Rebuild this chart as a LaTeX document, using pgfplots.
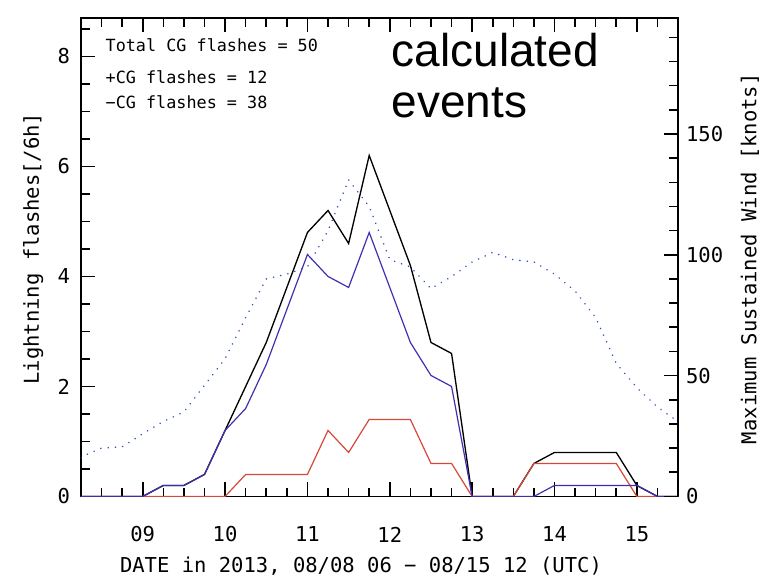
\documentclass[border=0pt]{standalone}
\usepackage{fontspec}
\setmainfont{DejaVu Sans Mono}
\newfontfamily\arialfont{Liberation Sans}
\usepackage{pgfplots}
\pgfplotsset{compat=1.18}
\usepackage{pgfplotstable}

\definecolor{negblue}{RGB}{64,48,176}
\definecolor{posred}{RGB}{214,72,56}
\definecolor{windblue}{RGB}{48,80,192}

% 6-hourly lightning counts: total, +CG, -CG
\pgfplotstableread{
t     total  pos  neg
8.25  0      0    0
8.5   0      0    0
8.75  0      0    0
9.0   0      0    0
9.25  0.2    0    0.2
9.5   0.2    0    0.2
9.75  0.4    0    0.4
10.0  1.2    0    1.2
10.25 2.0    0.4  1.6
10.5  2.8    0.4  2.4
10.75 3.8    0.4  3.4
11.0  4.8    0.4  4.4
11.25 5.2    1.2  4.0
11.5  4.6    0.8  3.8
11.75 6.2    1.4  4.8
12.0  5.2    1.4  3.8
12.25 4.2    1.4  2.8
12.5  2.8    0.6  2.2
12.75 2.6    0.6  2.0
13.0  0      0    0
13.25 0      0    0
13.5  0      0    0
13.75 0.6    0.6  0
14.0  0.8    0.6  0.2
14.25 0.8    0.6  0.2
14.5  0.8    0.6  0.2
14.75 0.8    0.6  0.2
15.0  0.2    0    0.2
15.25 0      0    0
15.5  0      0    0
}\flashes

% maximum sustained wind (knots)
\pgfplotstableread{
t     wind
8.25  16
8.33  17.5
8.5   20
8.75  20.5
9.0   26
9.25  31
9.5   35
9.75  46
10.0  57
10.25 74
10.5  90
10.75 92
11.0  95
11.25 110
11.5  131
11.75 120
12.0  98
12.25 95
12.5  86
12.75 91
13.0  97
13.25 101
13.5  98
13.75 97
14.0  92
14.25 85
14.5  74
14.75 55
15.0  45
15.25 37
15.5  31
}\wind

\pgfplotsset{
  every tick/.style={black, line width=1.2pt},
  every major tick/.style={black, line width=1.2pt},
  every minor tick/.style={black, line width=1.2pt},
}

\begin{document}
\begin{tikzpicture}
\begin{axis}[name=main,
  scale only axis, width=448pt, height=359pt,
  xmin=8.25, xmax=15.5, ymin=0, ymax=8.7,
  axis line style={line width=1.1pt},
  tick align=inside,
  major tick length=10.5pt, minor tick length=6.5pt,
  ticklabel style={font=\fontsize{15.4}{18}\selectfont},
  label style={font=\fontsize{15.4}{18}\selectfont},
  /pgf/number format/assume math mode=true,
  xtick={9,...,15}, xticklabels={09,10,11,12,13,14,15},
  minor xtick={8.5,8.75,9.25,9.5,9.75,10.25,10.5,10.75,11.25,11.5,11.75,12.25,12.5,12.75,13.25,13.5,13.75,14.25,14.5,14.75,15.25},
  ytick={0,2,4,6,8}, minor ytick={0.5,1,1.5,2.5,3,3.5,4.5,5,5.5,6.5,7,7.5,8.5},
  xtick pos=both, ytick pos=left,
  xticklabel pos=lower,
  xticklabel style={anchor=center, yshift=-28.5pt},
  yticklabel style={xshift=-4.75pt},
  xlabel={DATE in 2013, 08/08 06 − 08/15 12 (UTC)},
  xlabel style={at={(axis description cs:0.469,-0.146)}, anchor=center},
  ylabel={Lightning flashes[/6h]},
  ylabel style={at={(axis description cs:-0.080,0.518)}, anchor=center},
]
\addplot[black, line width=1pt] table[x=t, y=total] {\flashes};
\addplot[posred, line width=0.9pt] table[x=t, y=pos] {\flashes};
\addplot[negblue, line width=0.9pt] table[x=t, y=neg] {\flashes};
\node[anchor=base west, xshift=15pt, yshift=-25.3pt, font=\fontsize{12.6}{15}\selectfont] at (rel axis cs:0,1) {Total CG flashes = 50};
\node[anchor=base west, xshift=15pt, yshift=-49pt, font=\fontsize{12.6}{15}\selectfont] at (rel axis cs:0,1) {+CG flashes = 12};
\node[anchor=base west, xshift=15pt, yshift=-67.7pt, font=\fontsize{12.6}{15}\selectfont] at (rel axis cs:0,1) {−CG flashes = 38};
\node[anchor=base west, inner sep=0pt, xshift=233pt, yshift=-36.75pt, font=\arialfont\fontsize{34.5}{38}\selectfont] at (rel axis cs:0,1) {calculated};
\node[anchor=base west, inner sep=0pt, xshift=233pt, yshift=-75pt, font=\arialfont\fontsize{34.5}{38}\selectfont] at (rel axis cs:0,1) {events};
\end{axis}
\begin{axis}[
  scale only axis, width=448pt, height=359pt,
  xmin=8.25, xmax=15.5, ymin=0, ymax=198,
  axis x line=none, axis y line*=right,
  axis line style={line width=1.1pt, -},
  ytick align=inside,
  major tick length=10.5pt, minor tick length=6.5pt,
  ticklabel style={font=\fontsize{15.4}{18}\selectfont},
  label style={font=\fontsize{15.4}{18}\selectfont},
  /pgf/number format/assume math mode=true,
  ytick={0,50,100,150}, minor ytick={10,20,30,40,60,70,80,90,110,120,130,140,160,170,180,190},
  yticklabel style={xshift=2.5pt},
  ylabel={Maximum Sustained Wind [knots]},
  ylabel style={at={(axis description cs:1.1205,0.497)}, anchor=center},
]
\addplot[windblue, line width=1.3pt, dash pattern=on 0.01pt off 5.5pt, line cap=round] table[x=t, y=wind] {\wind};
\end{axis}
\pgfresetboundingbox
\path[use as bounding box] ([xshift=-60.75pt,yshift=-63.75pt]main.south west) rectangle ([xshift=65.25pt,yshift=13.5pt]main.north east);
\end{tikzpicture}
\end{document}
